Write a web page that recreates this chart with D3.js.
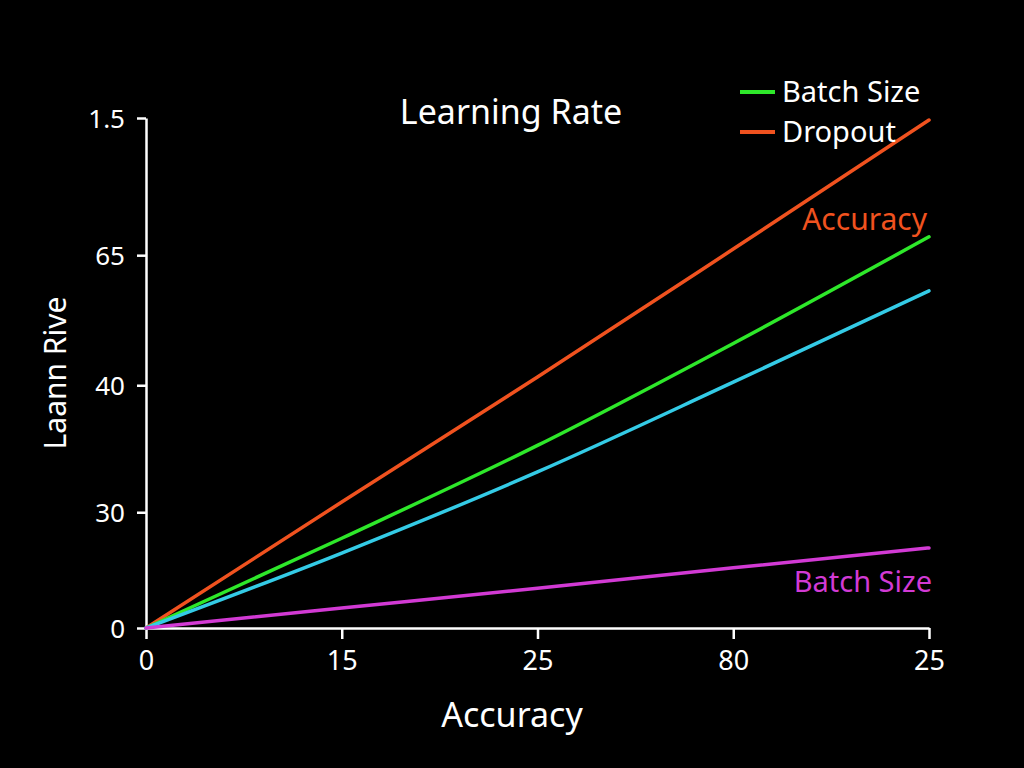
<!DOCTYPE html>
<html>
<head>
<meta charset="utf-8">
<script src="https://cdn.jsdelivr.net/npm/d3@7"></script>
<style>
  html, body { margin: 0; padding: 0; background: #000; }
  svg { display: block; font-family: "Noto Sans", "Open Sans", sans-serif; }
</style>
</head>
<body>
<svg class="chart"></svg>
<script>
const WIDTH = 1024;
const HEIGHT = 768;
const MARGIN = { top: 118, right: 95, bottom: 140, left: 146 };

// x positions are tick indexes; the labels are what the picture shows
const xTickLabels = ['0', '15', '25', '80', '25'];
const xIndex = [0, 1, 2, 3, 4];

// y tick positions (chart units 0..100) and their printed labels
const yTickValues = [0, 22.7, 47.6, 73.1, 100];
const yTickLabels = ['0', '30', '40', '65', '1.5'];

const dropout = [0, 24.7, 49.2, 74.3, 99.6];
const batchSizeGreen = [0, 17.6, 35.8, 55.8, 76.7];
const cyanSeries = [0, 14.7, 30.6, 48.2, 66.1];
const batchSizeMagenta = [0, 3.9, 7.8, 11.8, 15.7];

const series = [
  { name: 'Dropout', values: dropout, color: '#f0521f' },
  { name: 'Batch Size', values: batchSizeGreen, color: '#2ee82a' },
  { name: 'cyan', values: cyanSeries, color: '#34cbe6' },
  { name: 'Batch Size magenta', values: batchSizeMagenta, color: '#d23ad4' },
];

const legendItems = [
  { label: 'Batch Size', color: '#2ee82a' },
  { label: 'Dropout', color: '#f0521f' },
];

const innerW = WIDTH - MARGIN.left - MARGIN.right;
const innerH = HEIGHT - MARGIN.top - MARGIN.bottom;

const svg = d3.select('svg.chart')
  .attr('width', WIDTH)
  .attr('height', HEIGHT);

svg.append('rect').attr('width', WIDTH).attr('height', HEIGHT).attr('fill', '#000');

const chart = svg.append('g')
  .attr('transform', `translate(${MARGIN.left},${MARGIN.top})`);

const x = d3.scaleLinear().domain([0, 4]).range([0, innerW]);
const y = d3.scaleLinear().domain([0, 100]).range([innerH, 0]);

// x axis
const xAxis = chart.append('g')
  .attr('transform', `translate(0,${innerH})`)
  .call(d3.axisBottom(x)
    .tickValues(xIndex)
    .tickFormat(i => xTickLabels[i])
    .tickSize(11)
    .tickSizeOuter(0)
    .tickPadding(12));

// y axis
const yAxis = chart.append('g')
  .call(d3.axisLeft(y)
    .tickValues(yTickValues)
    .tickFormat((d, i) => yTickLabels[i])
    .tickSize(9)
    .tickSizeOuter(0)
    .tickPadding(12));

[xAxis, yAxis].forEach(ax => {
  ax.select('.domain').attr('stroke', '#fff').attr('stroke-width', 2.5);
  ax.selectAll('.tick line').attr('stroke', '#fff').attr('stroke-width', 2.5);
  ax.selectAll('.tick text')
    .attr('fill', '#fff')
    .attr('font-family', '"Noto Sans", sans-serif');
});
xAxis.selectAll('.tick text').attr('font-size', 27);
yAxis.selectAll('.tick text').attr('font-size', 26).attr('dy', '0.35em');

// lines
const line = d3.line()
  .x((d, i) => x(xIndex[i]))
  .y(d => y(d))
  .curve(d3.curveMonotoneX);

chart.selectAll('.series')
  .data(series)
  .enter()
  .append('path')
  .attr('class', 'series')
  .attr('fill', 'none')
  .attr('stroke', d => d.color)
  .attr('stroke-width', 3.5)
  .attr('stroke-linecap', 'round')
  .attr('d', d => line(d.values));

// inline line labels
chart.append('text')
  .attr('x', x(4) - 2)
  .attr('y', y(dropout[4]) + 110)
  .attr('text-anchor', 'end')
  .attr('fill', '#f0521f')
  .attr('font-size', 30)
  .text('Accuracy');

chart.append('text')
  .attr('x', x(4) + 3)
  .attr('y', y(batchSizeMagenta[4]) + 44)
  .attr('text-anchor', 'end')
  .attr('fill', '#d23ad4')
  .attr('font-size', 29)
  .text('Batch Size');

// title
svg.append('text')
  .attr('x', 511)
  .attr('y', 124)
  .attr('text-anchor', 'middle')
  .attr('fill', '#fff')
  .attr('font-size', 34)
  .text('Learning Rate');

// axis titles
svg.append('text')
  .attr('x', 512)
  .attr('y', 727)
  .attr('text-anchor', 'middle')
  .attr('fill', '#fff')
  .attr('font-size', 34)
  .text('Accuracy');

svg.append('text')
  .attr('transform', 'translate(66,373) rotate(-90)')
  .attr('text-anchor', 'middle')
  .attr('fill', '#fff')
  .attr('font-size', 30)
  .text('Laann Rive');

// legend
const legend = svg.append('g')
  .attr('transform', 'translate(740,92)');

const item = legend.selectAll('.item')
  .data(legendItems)
  .enter()
  .append('g')
  .attr('class', 'item')
  .attr('transform', (d, i) => `translate(0,${i * 40})`);

item.append('line')
  .attr('x1', 0).attr('x2', 35)
  .attr('stroke', d => d.color)
  .attr('stroke-width', 4);

item.append('text')
  .attr('x', 42)
  .attr('dy', '0.35em')
  .attr('fill', '#fff')
  .attr('font-size', 29)
  .text(d => d.label);
</script>
</body>
</html>
